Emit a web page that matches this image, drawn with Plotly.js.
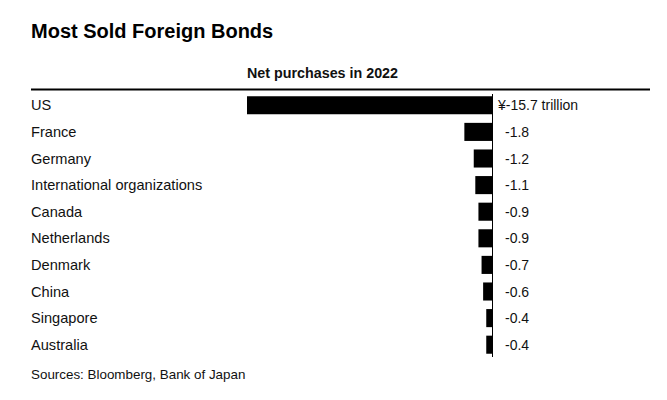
<!DOCTYPE html>
<html>
<head>
<meta charset="utf-8">
<script src="https://cdn.plot.ly/plotly-3.0.1.min.js"></script>
<style>html,body{margin:0;padding:0;background:#fff;}#chart{width:667px;height:400px;}</style>
</head>
<body>
<div id="chart"></div>
<script>
const countries = ["US","France","Germany","International organizations","Canada","Netherlands","Denmark","China","Singapore","Australia"];
const netPurchases = [-15.7,-1.8,-1.2,-1.1,-0.9,-0.9,-0.7,-0.6,-0.4,-0.4];
const valueLabels = ["¥-15.7 trillion","-1.8","-1.2","-1.1","-0.9","-0.9","-0.7","-0.6","-0.4","-0.4"];

const W = 667, H = 400, T = 92, B = 42;
const plotH = H - T - B;
const py = p => (H - B - p) / plotH;   // pixel -> paper y
const zeroPx = 492.5, scale = 245.5 / 15.7;
const font = "Liberation Sans, Arial, Helvetica, sans-serif";

const annotations = [];
countries.forEach((c, i) => {
  annotations.push({xref:'paper', yref:'y', x:31/W, y:c, xanchor:'left', yanchor:'middle', xshift:-2,
    text:c, showarrow:false, font:{family:font, size:14.6, color:'#111'}});
  const lbl = valueLabels[i];
  annotations.push({xref:'x', yref:'y', x:0, y:c, xanchor:'left', yanchor:'middle',
    xshift: lbl.startsWith('¥') ? 2 : 10,
    text:lbl, showarrow:false, font:{family:font, size:14, color:'#111'}});
});
annotations.push({xref:'paper', yref:'paper', x:247/W, y:py(73), xanchor:'left', yanchor:'middle', xshift:-2,
  text:'<b>Net purchases in 2022</b>', showarrow:false, font:{family:font, size:14.3, color:'#111'}});
annotations.push({xref:'paper', yref:'paper', x:31/W, y:py(374), xanchor:'left', yanchor:'middle', xshift:-2,
  text:'Sources: Bloomberg, Bank of Japan', showarrow:false, font:{family:font, size:13.4, color:'#111'}});

const data = [{
  type:'bar', orientation:'h', x:netPurchases, y:countries,
  marker:{color:'#000', line:{width:0}}, width:0.68, hoverinfo:'none'
}];

const layout = {
  width:W, height:H, margin:{l:0, r:0, t:T, b:B},
  paper_bgcolor:'#fff', plot_bgcolor:'#fff', showlegend:false,
  title:{text:'<b>Most Sold Foreign Bonds</b>', xref:'container', yref:'container',
    x:31/W, xanchor:'left', y:1-31/H, yanchor:'middle',
    font:{family:font, size:20, color:'#000'}},
  xaxis:{range:[-zeroPx/scale, (W-zeroPx)/scale], showgrid:false, showticklabels:false,
    zeroline:false, fixedrange:true},
  yaxis:{type:'category', autorange:'reversed', showgrid:false, showticklabels:false,
    zeroline:false, fixedrange:true},
  shapes:[
    {type:'line', xref:'paper', yref:'paper', x0:31/W, x1:650/W, y0:py(89.5), y1:py(89.5),
      line:{color:'#000', width:2}},
    {type:'line', xref:'x', yref:'paper', x0:0, x1:0, y0:py(357), y1:py(94),
      line:{color:'#000', width:1}}
  ],
  annotations:annotations
};
Plotly.newPlot('chart', data, layout, {displayModeBar:false, staticPlot:true});
</script>
</body>
</html>
